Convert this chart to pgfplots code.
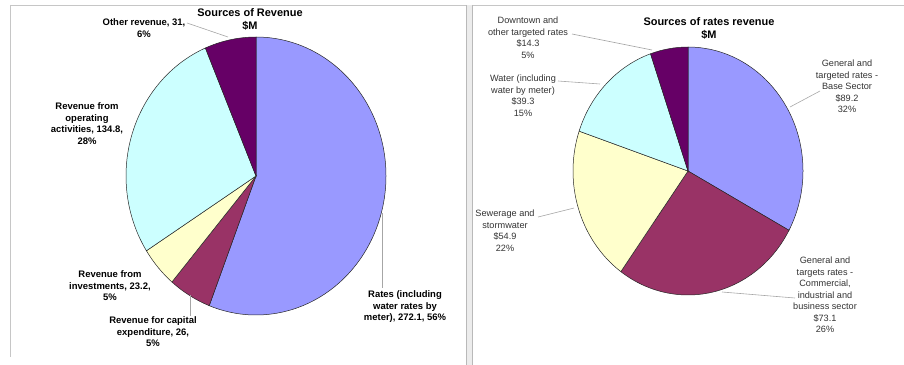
\documentclass[border=0pt]{standalone}
\usepackage{fontspec}
\setmainfont{Liberation Sans}
\usepackage{pgfplots}
\usepackage{pgfplotstable}
\pgfplotsset{compat=1.18}
\definecolor{pie0}{HTML}{9999FF}
\definecolor{pie1}{HTML}{993366}
\definecolor{pie2}{HTML}{FFFFCC}
\definecolor{pie3}{HTML}{CCFFFF}
\definecolor{pie4}{HTML}{660066}
\definecolor{txtgray}{HTML}{333333}

% Sources of Revenue ($M), clockwise from 12 o'clock
\pgfplotstableread{
value
272.1
26
23.2
134.8
31
}\revtable
% Sources of rates revenue ($M)
\pgfplotstableread{
value
89.2
73.1
54.9
39.3
14.3
}\ratestable

\newcommand\computepie[2]{%
  \def\tot{0}%
  \pgfplotsforeachungrouped \i in {0,...,4}{%
    \pgfplotstablegetelem{\i}{value}\of{#1}%
    \pgfmathsetmacro\tot{\tot+\pgfplotsretval}%
  }%
  \def\ang{90}%
  \pgfplotsforeachungrouped \i in {0,...,4}{%
    \pgfplotstablegetelem{\i}{value}\of{#1}%
    \expandafter\xdef\csname #2s\i\endcsname{\ang}%
    \pgfmathsetmacro\ang{\ang-(\pgfplotsretval/\tot)*360}%
    \expandafter\xdef\csname #2e\i\endcsname{\ang}%
  }%
}
\newcommand\lfont{\fontsize{9.5}{12}\selectfont\bfseries}
\newcommand\rfont{\fontsize{9.2}{11.5}\selectfont}
\newcommand\tfont{\fontsize{11}{13}\selectfont\bfseries}

\begin{document}
\begin{tikzpicture}
\computepie{\revtable}{L}
\computepie{\ratestable}{R}
\begin{axis}[width=904bp,height=365bp,scale only axis,
  xmin=0,xmax=904,ymin=0,ymax=365,y dir=reverse,hide axis,clip=false]
\coordinate (bl) at (axis cs:0,365);
\coordinate (tr) at (axis cs:904,0);
% frames
\draw[gray!45,line width=1pt] (axis cs:10,5) -- (axis cs:904,5);
\draw[gray!45,line width=1pt] (axis cs:10,5) -- (axis cs:10,357);
\fill[gray!15] (axis cs:466,5) rectangle (axis cs:472,365);
\draw[gray!55,line width=0.6pt] (axis cs:466,5) -- (axis cs:466,365);
\draw[gray!55,line width=0.6pt] (axis cs:472,5) -- (axis cs:472,365);
% left pie
\pgfplotsinvokeforeach{0,...,4}{
  \filldraw[fill=pie#1,draw=black!85,line width=0.5pt] (axis cs:256,176) -- ++(\csname Ls#1\endcsname:130bp and 139bp)
    arc[start angle=\csname Ls#1\endcsname,end angle=\csname Le#1\endcsname,x radius=130bp,y radius=139bp] -- cycle;
}
% right pie
\pgfplotsinvokeforeach{0,...,4}{
  \filldraw[fill=pie#1,draw=black!85,line width=0.5pt] (axis cs:688,171) -- ++(\csname Rs#1\endcsname:115bp and 124bp)
    arc[start angle=\csname Rs#1\endcsname,end angle=\csname Re#1\endcsname,x radius=115bp,y radius=124bp] -- cycle;
}
% titles
\node[anchor=north,align=center,inner sep=0,font=\tfont] at (axis cs:250,8) {Sources of Revenue\\\$M};
\node[anchor=north,align=center,inner sep=0,font=\tfont] at (axis cs:709,17) {Sources of rates revenue\\\$M};
% left leaders
\draw[gray!70,line width=0.6pt] (axis cs:187,23) -- (axis cs:228,37);
\draw[gray!70,line width=0.6pt] (axis cs:190,295) -- (axis cs:190,316);
\draw[gray!70,line width=0.6pt] (axis cs:382,213) -- (axis cs:382,288);
% left labels
\node[anchor=north,align=center,inner sep=0,font=\lfont] at (axis cs:144,18) {Other revenue, 31,\\6\%};
\node[anchor=north,align=center,inner sep=0,font=\lfont] at (axis cs:87,102) {Revenue from\\operating\\activities, 134.8,\\28\%};
\node[anchor=north,align=center,inner sep=0,font=\lfont] at (axis cs:110,270) {Revenue from\\investments, 23.2,\\5\%};
\node[anchor=north,align=center,inner sep=0,font=\lfont] at (axis cs:153,316) {Revenue for capital\\expenditure, 26,\\5\%};
\node[anchor=north,align=center,inner sep=0,font=\lfont] at (axis cs:405,290) {Rates (including\\water rates by\\meter), 272.1, 56\%};
% right leaders
\draw[gray!70,line width=0.6pt] (axis cs:572,34) -- (axis cs:652,50);
\draw[gray!70,line width=0.6pt] (axis cs:558,81) -- (axis cs:600,84);
\draw[gray!70,line width=0.6pt] (axis cs:538,217) -- (axis cs:574,208);
\draw[gray!70,line width=0.6pt] (axis cs:820,91) -- (axis cs:790,107);
\draw[gray!70,line width=0.6pt] (axis cs:795,298) -- (axis cs:722,292);
% right labels
\node[anchor=north,align=center,inner sep=0,font=\rfont,text=txtgray] at (axis cs:528,17) {Downtown and\\other targeted rates\\\$14.3\\5\%};
\node[anchor=north,align=center,inner sep=0,font=\rfont,text=txtgray] at (axis cs:523,75) {Water (including\\water by meter)\\\$39.3\\15\%};
\node[anchor=north,align=center,inner sep=0,font=\rfont,text=txtgray] at (axis cs:505,210) {Sewerage and\\stormwater\\\$54.9\\22\%};
\node[anchor=north,align=center,inner sep=0,font=\rfont,text=txtgray] at (axis cs:847,60) {General and\\targeted rates -\\Base Sector\\\$89.2\\32\%};
\node[anchor=north,align=center,inner sep=0,font=\rfont,text=txtgray] at (axis cs:825,257) {General and\\targets rates -\\Commercial,\\industrial and\\business sector\\\$73.1\\26\%};
\end{axis}
\pgfresetboundingbox
\path[use as bounding box] (bl) rectangle (tr);
\end{tikzpicture}
\end{document}
